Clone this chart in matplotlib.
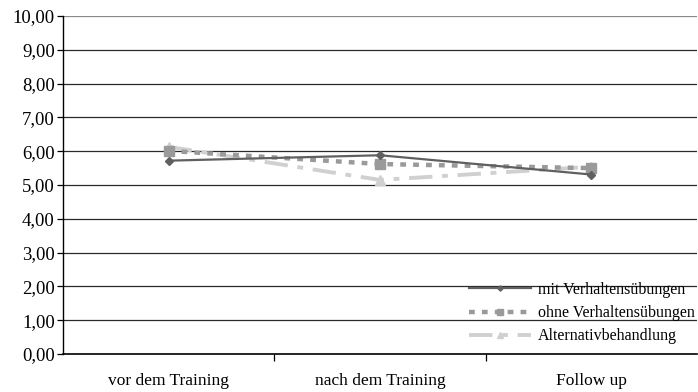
import matplotlib.pyplot as plt
from matplotlib.ticker import FuncFormatter
import numpy as np

# Data
categories = ['vor dem Training', 'nach dem Training', 'Follow up']
mit_werte = [5.72, 5.88, 5.31]
ohne_werte = [6.01, 5.62, 5.50]
alt_werte = [6.13, 5.15, 5.54]
series_names = ['mit Verhaltensübungen', 'ohne Verhaltensübungen', 'Alternativbehandlung']

plt.rcParams['font.family'] = ['Liberation Serif', 'DejaVu Serif']

fig = plt.figure(figsize=(6.98, 3.92), dpi=100)
ax = fig.add_axes([63 / 698, 1 - 354 / 392, (697 - 63) / 698, (354 - 16) / 392])

x = np.arange(len(categories))

# gridlines
for v in range(1, 11):
    ax.axhline(v, color='#2a2a2a' if v < 10 else '#8a8a8a', lw=0.9, zorder=0)

ax.plot(x, mit_werte, color='#606060', lw=1.6, marker='D', ms=4.5,
        label=series_names[0], zorder=3)
ax.plot(x, ohne_werte, color='#9a9a9a', lw=3.2, linestyle=(0, (1.3, 1.6)),
        marker='s', ms=6.5, label=series_names[1], zorder=2)
ax.plot(x, alt_werte, color='#d0d0d0', lw=2.8, linestyle=(0, (6, 2.5, 1.5, 2.5)),
        marker='^', ms=7, label=series_names[2], zorder=1)

ax.set_xlim(-0.5, 2.5)
ax.set_ylim(0, 10)
ax.set_yticks(np.arange(0, 11, 1))
ax.yaxis.set_major_formatter(FuncFormatter(lambda v, p: f'{v:.2f}'.replace('.', ',')))

ax.set_xticks([0.5, 1.5])
ax.set_xticklabels([])
ax.set_xticks(x, minor=True)
ax.set_xticklabels(categories, minor=True, fontsize=12.5)
ax.tick_params(axis='x', which='minor', length=0, pad=14)
ax.tick_params(axis='x', which='major', length=5, direction='out', width=0.9)
ax.tick_params(axis='y', length=4, direction='out', width=0.9, labelsize=13.5, pad=2)

for s in ['top', 'right']:
    ax.spines[s].set_visible(False)
ax.spines['left'].set_linewidth(1.0)
ax.spines['bottom'].set_linewidth(1.2)

leg = ax.legend(loc='lower right', bbox_to_anchor=(1.012, 0.0), frameon=False,
                fontsize=11.5, handlelength=3.9, handletextpad=0.45,
                labelspacing=0.45, borderaxespad=0.2, markerscale=0.6)

fig.savefig('out.png', dpi=100)
